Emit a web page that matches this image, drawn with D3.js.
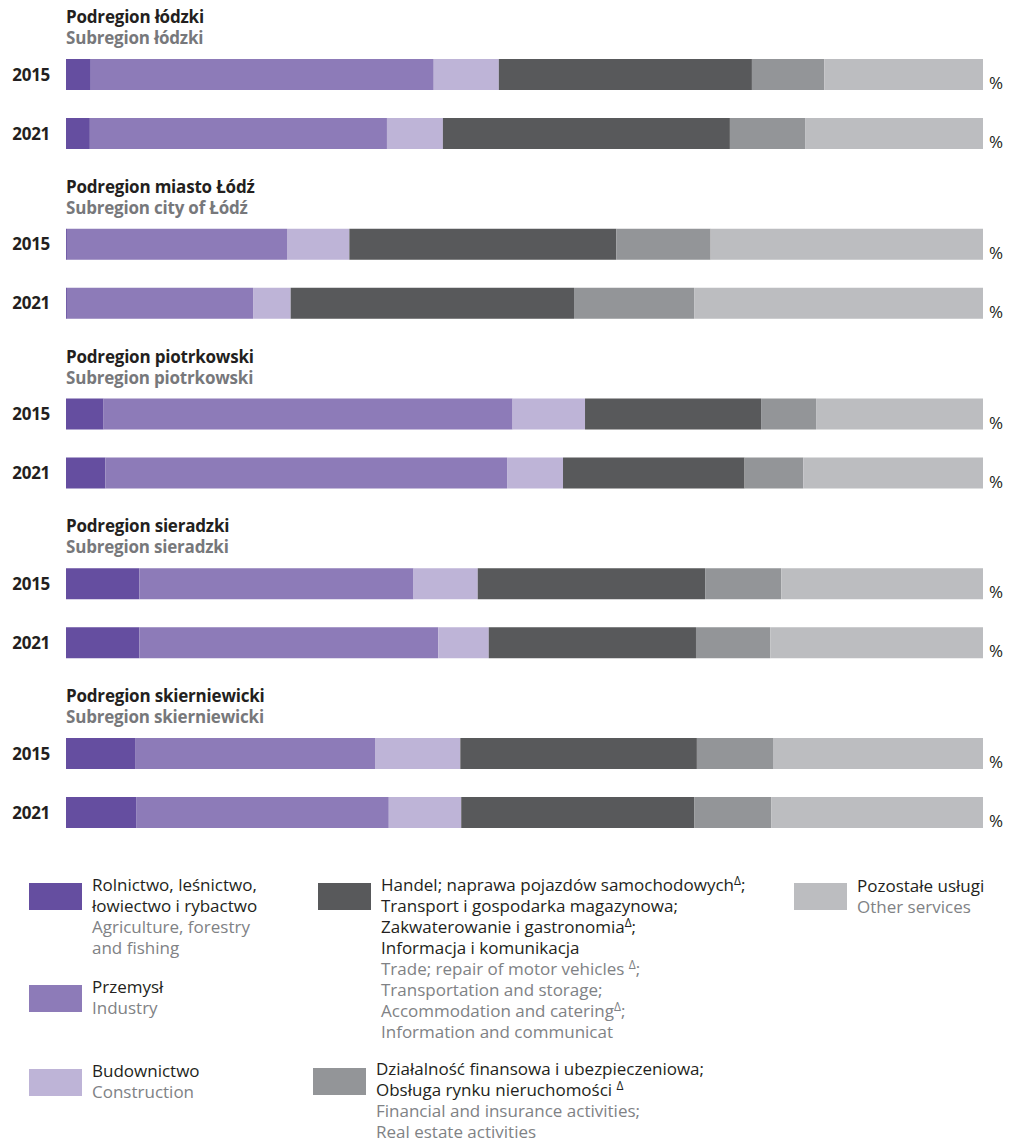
<!DOCTYPE html>
<html><head><meta charset="utf-8">
<script src="https://cdn.jsdelivr.net/npm/d3@7"></script>
<style>body{margin:0;background:#fff}svg{display:block}</style>
</head><body>
<svg id="c" width="1009" height="1146"></svg>
<script>
// ---- data ----
const regionsPL = ["Podregion łódzki","Podregion miasto Łódź","Podregion piotrkowski","Podregion sieradzki","Podregion skierniewicki"];
const regionsEN = ["Subregion łódzki","Subregion city of Łódź","Subregion piotrkowski","Subregion sieradzki","Subregion skierniewicki"];
const years = ["2015","2021"];
const seriesKeys = ["agriculture","industry","construction","trade","finance","other"];
// rows: each region 2015, 2021
const agriculture  = [2.7, 2.6, 0.1, 0.1, 4.1, 4.3, 8.0, 8.0, 7.6, 7.7];
const industry     = [37.4,32.4,24.0,20.3,44.6,43.8,29.9,32.6,26.1,27.5];
const construction = [7.1, 6.1, 6.8, 4.1, 7.9, 6.1, 7.0, 5.5, 9.3, 7.9];
const trade        = [27.6,31.3,29.1,30.9,19.2,19.8,24.8,22.6,25.8,25.4];
const finance      = [7.9, 8.2,10.3,13.1, 6.0, 6.4, 8.3, 8.1, 8.3, 8.4];
const other        = [17.3,19.4,29.7,31.5,18.2,19.6,22.0,23.2,22.9,23.1];
const colors = ["#654ea0","#8d7bb8","#beb4d7","#58595b","#939598","#bcbdc0"];

const legendPL = [
  ["Rolnictwo, leśnictwo,","łowiectwo i rybactwo"],
  ["Przemysł"],
  ["Budownictwo"],
  ["Handel; naprawa pojazdów samochodowych^;","Transport i gospodarka magazynowa;","Zakwaterowanie i gastronomia^;","Informacja i komunikacja"],
  ["Działalność finansowa i ubezpieczeniowa;","Obsługa rynku nieruchomości ^"],
  ["Pozostałe usługi"]
];
const legendEN = [
  ["Agriculture, forestry","and fishing"],
  ["Industry"],
  ["Construction"],
  ["Trade; repair of motor vehicles ^;","Transportation and storage;","Accommodation and catering^;","Information and communicat"],
  ["Financial and insurance activities;","Real estate activities"],
  ["Other services"]
];

// ---- build ----
const seriesVals = {agriculture, industry, construction, trade, finance, other};
const rows = d3.range(agriculture.length).map(i => {
  const r = {region: Math.floor(i/2), year: years[i%2]};
  seriesKeys.forEach(k => r[k] = seriesVals[k][i]);
  return r;
});
const stack = d3.stack().keys(seriesKeys)(rows);

const svg = d3.select("#c");
const FONT = "'Open Sans', sans-serif";
const x = d3.scaleLinear().domain([0,100]).range([66,983]);
const gy = d3.scaleLinear().domain([0,4]).range([59,738]);
const yOff = d3.scaleOrdinal().domain(years).range([0,59]);
const barH = 31;
const rowY = d => gy(d.region) + yOff(d.year);

const color = d3.scaleOrdinal().domain(seriesKeys).range(colors);

svg.append("g").selectAll("g").data(stack).join("g")
  .attr("fill", s => color(s.key))
  .selectAll("rect").data(s => s).join("rect")
  .attr("x", d => x(d[0]))
  .attr("width", d => Math.max(0, x(d[1]) - x(d[0])))
  .attr("y", d => rowY(d.data))
  .attr("height", barH);

// region titles
const tg = svg.append("g").attr("font-family", FONT).attr("font-weight", 700)
  .attr("font-size", 17).attr("letter-spacing", -0.2);
regionsPL.forEach((t,i) => {
  tg.append("text").attr("x",66).attr("y",gy(i)-36).attr("fill","#231f20").text(t);
  tg.append("text").attr("x",66).attr("y",gy(i)-15).attr("fill","#77787b").text(regionsEN[i]);
});

// year labels & %
rows.forEach(r => {
  svg.append("text").attr("x",50).attr("y",rowY(r)+barH/2+6)
    .attr("text-anchor","end").attr("font-family",FONT).attr("font-weight",700)
    .attr("font-size",17).attr("letter-spacing",-0.3).attr("fill","#231f20").text(r.year);
  svg.append("text").attr("x",989).attr("y",rowY(r)+barH-1)
    .attr("font-family",FONT).attr("font-size",17).attr("fill","#231f20").text("%");
});

// legend
const legPos = [
  {sx:29, sy:883, tx:92, ty:891},
  {sx:29, sy:985, tx:92, ty:993},
  {sx:29, sy:1069, tx:92, ty:1077},
  {sx:318, sy:883, tx:381, ty:891},
  {sx:313, sy:1068, tx:376, ty:1075},
  {sx:794, sy:883, tx:857, ty:892}
];
const lg = svg.append("g").attr("font-family", FONT).attr("font-size", 17);
function addLine(t, x0, y0, fill){
  const txt = lg.append("text").attr("x",x0).attr("y",y0).attr("fill",fill);
  const parts = t.split("^");
  parts.forEach((p,j) => {
    if (j>0) {
      txt.append("tspan").attr("dy",-6).attr("font-size",12).text("\u0394");
      txt.append("tspan").attr("dy",6).text(p);
    } else txt.append("tspan").text(p);
  });
}
seriesKeys.forEach((k,i) => {
  const p = legPos[i];
  svg.append("rect").attr("x",p.sx).attr("y",p.sy).attr("width",53).attr("height",27).attr("fill",color(k));
  let yy = p.ty;
  legendPL[i].forEach(t => { addLine(t, p.tx, yy, "#231f20"); yy += 21; });
  legendEN[i].forEach(t => { addLine(t, p.tx, yy, "#808285"); yy += 21; });
});
</script>
</body></html>
